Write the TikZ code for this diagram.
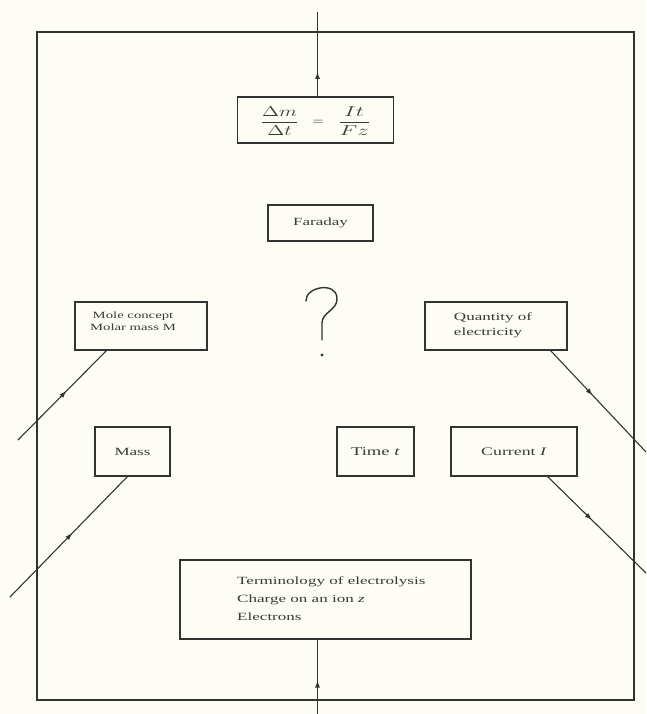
\documentclass[tikz,border=0pt]{standalone}
\usepackage{fontspec}
\setmainfont{Liberation Serif}[FakeStretch=1.55]
\usetikzlibrary{arrows.meta,decorations.markings,calc}
\definecolor{paper}{HTML}{FDFDF5}
\definecolor{ink}{HTML}{333333}
\definecolor{txt}{HTML}{3A3A3A}
\begin{document}
\begin{tikzpicture}[x=1pt,y=-1pt,
  box/.style={draw=ink, line width=1.2pt, rectangle, inner sep=0pt},
  lbl/.style={text=txt, font=\fontsize{11}{13}\selectfont, inner sep=0pt},
  link/.style={draw=ink, line width=1.1pt, postaction={decorate},
    decoration={markings, mark=at position #1 with {\arrow{Latex[length=7pt,width=5pt]}}}},
]
\fill[paper] (0,0) rectangle (646,714);
\useasboundingbox (0,0) rectangle (646,714);

% frame
\draw[ink, line width=1.3pt] (37,32) rectangle (634,700);

% boxes
\node[box, minimum width=156pt, minimum height=46pt] (formula) at (315.5,120) {};
\node[lbl] (formulatext) at (315.5,121) {\fontsize{14}{16}\selectfont
  \scalebox{1.45}[1]{$\displaystyle\frac{\Delta m}{\Delta t}$}\hspace{14pt}$=$\hspace{14pt}\scalebox{1.6}[1]{$\displaystyle\frac{It}{Fz}$}};

\node[box, minimum width=105pt, minimum height=36pt, lbl, draw=ink] (faraday) at (320.5,223) {Faraday};

\node[box, minimum width=132pt, minimum height=48pt] (mole) at (141,326) {};
\node[lbl, align=center, font=\fontsize{9.5}{12}\selectfont] (moletext) at (133,321) {Mole concept\\Molar mass M};

\node[box, minimum width=142pt, minimum height=48pt] (quantity) at (496,326) {};
\node[lbl, align=left, font=\fontsize{11}{15}\selectfont] (quantitytext) at (493,325) {Quantity of\\electricity};

\node[box, minimum width=75pt, minimum height=49pt, lbl, draw=ink] (mass) at (132.5,451.5) {Mass};
\node[box, minimum width=77pt, minimum height=49pt, lbl, draw=ink, font=\fontsize{12}{14}\selectfont] (time) at (375.5,451.5) {Time \textit{t}};
\node[box, minimum width=126pt, minimum height=49pt, lbl, draw=ink, font=\fontsize{11.5}{14}\selectfont] (current) at (514,451.5) {Current \textit{I}};

\node[box, minimum width=291pt, minimum height=79pt] (bottom) at (325.5,599.5) {};
\node[lbl, align=left, anchor=north west, font=\fontsize{11}{18}\selectfont] (bottomtext) at (237,577)
  {Terminology of electrolysis\\Charge on an ion \textit{z}\\Electrons};

% question mark
\draw[ink, line width=1.4pt, line cap=round]
  (306,301) .. controls (305,287) and (336,281) .. (337,298)
  .. controls (338,310) and (322,312) .. (322,323) -- (322,340);
\fill[ink] (322,355) circle (1.7pt);

% connectors
\coordinate (topend) at (317.5,12);
\coordinate (botend) at (317.5,714);
\coordinate (moleend) at (18,440);
\coordinate (massend) at (10,597);
\coordinate (quantityend) at (646,452);
\coordinate (currentend) at (646,573);

\draw[link=0.29] (topend |- formula.north) -- (topend);
\draw[link=0.45] (botend) -- (botend |- bottom.south);
\draw[link=0.55] (moleend) -- ($(mole.south west)+(32,0)$);
\draw[link=0.53] (massend) -- ($(mass.south west)+(33,0)$);
\draw[link=0.44] ($(quantity.south east)+(-17,0)$) -- (quantityend);
\draw[link=0.45] ($(current.south east)+(-30,0)$) -- (currentend);
\end{tikzpicture}
\end{document}
